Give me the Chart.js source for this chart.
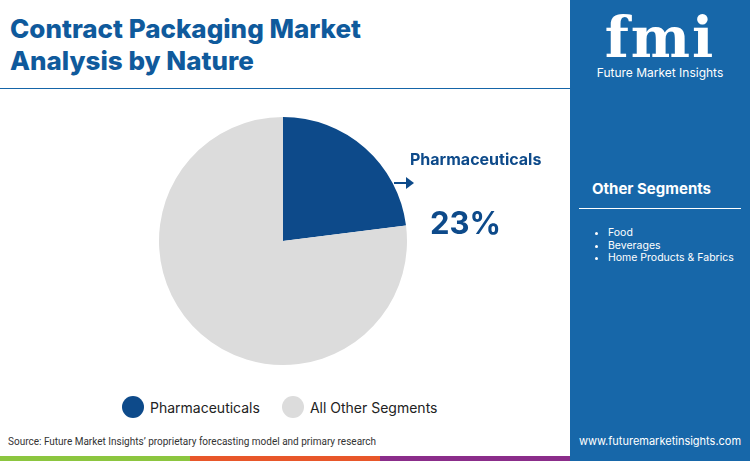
<!DOCTYPE html>
<html>
<head>
<meta charset="utf-8">
<script src="https://cdn.jsdelivr.net/npm/chart.js@4/dist/chart.umd.min.js"></script>
<style>
  body { margin: 0; width: 750px; height: 461px; overflow: hidden; background: #fff; font-family: Inter, "Noto Sans", sans-serif; position: relative; }
  .title { position: absolute; left: 10px; top: 13px; font-size: 26px; font-weight: 800; line-height: 32px; color: #0f5a9c; }
  .rule { position: absolute; left: 0; top: 88px; width: 570px; height: 1px; background: #1565a8; }
  .side { position: absolute; left: 570px; top: 0; width: 180px; height: 461px; background: #1767a9; color: #fff; }
  .logo { position: absolute; left: 0; width: 180px; top: 8px; text-align: center; font-size: 56px; font-weight: 900; letter-spacing: 2px; font-family: "DejaVu Serif", serif; line-height: 58px; }
  .logo-sub { position: absolute; left: 0; width: 180px; top: 66px; text-align: center; font-size: 12px; line-height: 14px; }
  .seg-h { position: absolute; left: 22px; top: 179px; font-size: 15px; font-weight: 700; }
  .seg-rule { position: absolute; left: 9px; top: 208px; width: 162px; height: 1px; background: #fff; }
  .seg-list { position: absolute; left: 22px; top: 227px; font-size: 10.5px; line-height: 12.5px; margin: 0; padding-left: 16px; }
  .web { position: absolute; left: 0; width: 180px; top: 434px; text-align: center; font-size: 11px; }
  .source { position: absolute; left: 8px; top: 436px; font-size: 10px; color: #333; font-family: Roboto, sans-serif; }
  .bar { position: absolute; top: 456px; height: 5px; width: 190px; }
  #wrap { position: absolute; left: 155px; top: 113px; width: 256px; height: 256px; }
  .lab { position: absolute; left: 410px; top: 149px; font-size: 16px; font-weight: 700; color: #0d4a8a; }
  .pct { position: absolute; left: 430px; top: 204px; font-size: 31px; font-weight: 700; color: #0d4a8a; }
  .arrow { position: absolute; left: 394px; top: 182px; width: 14px; height: 2px; background: #0d4a8a; }
  .arrow:after { content: ""; position: absolute; right: -6px; top: -5px; border-left: 8px solid #0d4a8a; border-top: 6px solid transparent; border-bottom: 6px solid transparent; }
  .legend { position: absolute; top: 396px; left: 122px; font-size: 14px; color: #222; display: flex; align-items: center; }
  .dot { width: 22px; height: 22px; border-radius: 50%; display: inline-block; margin-right: 6px; }
</style>
</head>
<body>
<div class="title">Contract Packaging Market<br>Analysis by Nature</div>
<div class="rule"></div>
<div id="wrap"><canvas id="pie"></canvas></div>
<div class="lab">Pharmaceuticals</div>
<div class="arrow"></div>
<div class="pct">23%</div>
<div class="legend">
  <span class="dot" style="background:#0d4a8a"></span>Pharmaceuticals
  <span class="dot" style="background:#dcdcdc;margin-left:22px"></span>All Other Segments
</div>
<div class="source">Source: Future Market Insights’ proprietary forecasting model and primary research</div>
<div class="bar" style="left:0;background:#8cc63f"></div>
<div class="bar" style="left:190px;background:#e8572a"></div>
<div class="bar" style="left:380px;background:#8b2d8a"></div>
<div class="side">
  <div class="logo">fmi</div>
  <div class="logo-sub">Future Market Insights</div>
  <div class="seg-h">Other Segments</div>
  <div class="seg-rule"></div>
  <ul class="seg-list"><li>Food</li><li>Beverages</li><li>Home Products &amp; Fabrics</li></ul>
  <div class="web">www.futuremarketinsights.com</div>
</div>
<script>
const categories = ['Pharmaceuticals', 'All Other Segments'];
const shares = [23, 77];
const colors = ['#0d4a8a', '#dcdcdc'];

new Chart(document.getElementById('pie'), {
  type: 'pie',
  data: {
    labels: categories,
    datasets: [{ data: shares, backgroundColor: colors, borderWidth: 0 }]
  },
  options: {
    responsive: true,
    maintainAspectRatio: false,
    animation: false,
    layout: { padding: 4 },
    plugins: { legend: { display: false }, tooltip: { enabled: false } }
  }
});
</script>
</body>
</html>
